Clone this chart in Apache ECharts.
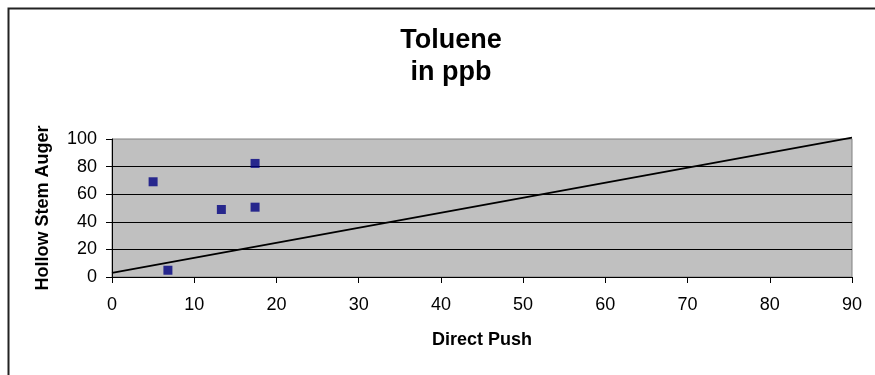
<!DOCTYPE html>
<html>
<head>
<meta charset="utf-8">
<script src="https://cdn.jsdelivr.net/npm/echarts@6/dist/echarts.min.js"></script>
<style>
  html, body { margin: 0; padding: 0; background: #fff; }
  #chart { width: 875px; height: 375px; }
</style>
</head>
<body>
<div id="chart"></div>
<script>
// Sample pairs: Direct Push result (x) vs Hollow Stem Auger result (y), ppb
const directPush = [5, 17.4, 13.3, 17.4, 6.8];
const hollowStemAuger = [69, 82.3, 48.9, 50.6, 4.9];

// Linear trend line end points [x, y]
const trendLine = [[0, 3], [90, 101]];

const xTicks = { min: 0, max: 90, interval: 10 };
const yTicks = { min: 0, max: 100, interval: 20 };

const points = directPush.map((x, i) => [x, hollowStemAuger[i]]);

const FONT = '"Liberation Sans", Arial, sans-serif';

const chart = echarts.init(document.getElementById('chart'), null, { renderer: 'canvas' });

chart.setOption({
  backgroundColor: '#ffffff',
  animation: false,
  title: {
    text: 'Toluene\nin ppb',
    left: 446,
    textAlign: 'center',
    top: 20,
    textStyle: {
      fontFamily: FONT,
      fontSize: 27,
      fontWeight: 'bold',
      color: '#000',
      lineHeight: 32
    }
  },
  graphic: [{
    type: 'rect',
    left: 6,
    top: 6,
    shape: { width: 900, height: 400 },
    style: { fill: 'none', stroke: '#222', lineWidth: 2 },
    z: 100
  }],
  grid: {
    left: 112,
    right: 23,
    top: 139,
    bottom: 98,
    show: true,
    backgroundColor: '#c0c0c0',
    borderColor: '#808080',
    borderWidth: 1
  },
  xAxis: {
    type: 'value',
    min: xTicks.min,
    max: xTicks.max,
    interval: xTicks.interval,
    name: 'Direct Push',
    nameLocation: 'middle',
    nameGap: 54,
    nameTextStyle: { fontFamily: FONT, fontSize: 18, fontWeight: 'bold', color: '#000' },
    axisLine: { show: true, onZero: false, lineStyle: { color: '#000', width: 1 } },
    axisTick: { show: true, inside: false, length: 6, lineStyle: { color: '#000' } },
    axisLabel: { fontFamily: FONT, fontSize: 18, color: '#000', margin: 19 },
    splitLine: { show: false }
  },
  yAxis: {
    type: 'value',
    min: yTicks.min,
    max: yTicks.max,
    interval: yTicks.interval,
    name: 'Hollow Stem Auger',
    nameLocation: 'middle',
    nameGap: 60,
    nameRotate: 90,
    nameTextStyle: { fontFamily: FONT, fontSize: 18, fontWeight: 'bold', color: '#000' },
    axisLine: { show: true, onZero: false, lineStyle: { color: '#000', width: 1 } },
    axisTick: { show: true, inside: false, length: 6, lineStyle: { color: '#000' } },
    axisLabel: { fontFamily: FONT, fontSize: 18, color: '#000', margin: 15 },
    splitLine: { show: true, showMaxLine: false, lineStyle: { color: '#000', width: 1 } }
  },
  series: [
    {
      type: 'line',
      data: trendLine,
      showSymbol: false,
      symbol: 'none',
      clip: false,
      lineStyle: { color: '#000', width: 2 },
      z: 3
    },
    {
      type: 'scatter',
      data: points,
      symbol: 'rect',
      symbolSize: 9,
      itemStyle: { color: '#000080' },
      z: 4
    }
  ]
});
</script>
</body>
</html>
